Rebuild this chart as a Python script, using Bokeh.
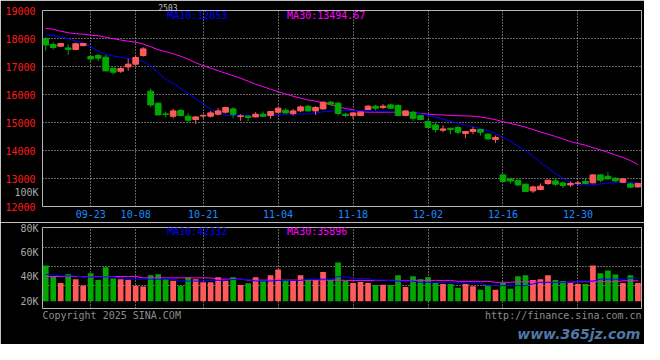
from bokeh.plotting import figure
from bokeh.models import Range1d, FixedTicker, Label, LinearAxis
from bokeh.layouts import column
from bokeh.embed import file_html
from bokeh.resources import INLINE

# ---------------- data ----------------
dates = ["09-11", "09-12", "09-13", "09-18", "09-19", "09-20", "09-23", "09-24", "09-25", "09-26",
         "09-27", "09-30", "10-08", "10-09", "10-10", "10-11", "10-14", "10-15", "10-16", "10-17",
         "10-18", "10-21", "10-22", "10-23", "10-24", "10-25", "10-28", "10-29", "10-30", "10-31",
         "11-01", "11-04", "11-05", "11-06", "11-07", "11-08", "11-11", "11-12", "11-13", "11-14",
         "11-15", "11-18", "11-19", "11-20", "11-21", "11-22", "11-25", "11-26", "11-27", "11-28",
         "11-29", "12-02", "12-03", "12-04", "12-05", "12-06", "12-09", "12-10", "12-11", "12-12",
         "12-13", "12-16", "12-17", "12-18", "12-19", "12-20", "12-23", "12-24", "12-25", "12-26",
         "12-27", "12-30", "12-31", "01-02", "01-03", "01-06", "01-07", "01-08", "01-09", "01-10"]

tick_dates = ["09-23", "10-08", "10-21", "11-04", "11-18", "12-02", "12-16", "12-30"]

open_ = [18000, 17786, 17725, 17664, 17607, 17743, 17357, 17393, 17332, 16939,
         16832, 16986, 17082, 17393, 16118, 15689, 15307, 15225, 15429, 15225,
         15107, 15232, 15225, 15296, 15368, 15486, 15214, 15225, 15200, 15296,
         15250, 15368, 15439, 15321, 15414, 15582, 15414, 15486, 15725, 15689,
         15296, 15250, 15250, 15464, 15582, 15536, 15629, 15607, 15250, 15368,
         15250, 15036, 14914, 14725, 14796, 14821, 14607, 14679, 14750, 14582,
         14393, 13129, 12986, 12939, 12796, 12557, 12607, 12821, 12914, 12843,
         12771, 12821, 12893, 12843, 13129, 13082, 13011, 12868, 12807, 12700]
close = [17771, 17679, 17821, 17607, 17814, 17821, 17271, 17296, 16843, 16796,
         16929, 17082, 17321, 17629, 15629, 15271, 15286, 15414, 15250, 15082,
         15200, 15254, 15343, 15414, 15536, 15296, 15236, 15179, 15296, 15225,
         15393, 15511, 15343, 15414, 15557, 15414, 15536, 15725, 15654, 15321,
         15250, 15343, 15368, 15582, 15511, 15582, 15511, 15250, 15414, 15154,
         15107, 14821, 14750, 14771, 14750, 14654, 14679, 14750, 14654, 14414,
         14464, 12893, 12914, 12771, 12536, 12700, 12725, 12939, 12796, 12750,
         12821, 12843, 12821, 13129, 12939, 12986, 12914, 12986, 12689, 12821]
high = [18046, 17868, 17850, 17786, 17850, 17843, 17404, 17450, 17414, 16957,
        16986, 17271, 17393, 17689, 16200, 15725, 15393, 15486, 15475, 15343,
        15225, 15296, 15414, 15511, 15557, 15546, 15296, 15261, 15368, 15393,
        15414, 15536, 15511, 15486, 15607, 15629, 15582, 15743, 15771, 15750,
        15343, 15357, 15386, 15629, 15629, 15654, 15679, 15654, 15439, 15414,
        15261, 15107, 14986, 14893, 14796, 14893, 14679, 14843, 14771, 14618,
        14536, 13154, 13036, 12957, 12814, 12750, 12821, 12957, 12986, 12893,
        12893, 12914, 12986, 13154, 13154, 13225, 13046, 13029, 12850, 12850]
low = [17571, 17607, 17707, 17414, 17582, 17725, 17154, 17189, 16832, 16714,
       16772, 16843, 17036, 17357, 15547, 15250, 15189, 15154, 15225, 15011,
       14950, 15154, 15179, 15250, 15321, 15154, 15057, 15057, 15179, 15200,
       15129, 15343, 15321, 15250, 15368, 15393, 15271, 15464, 15607, 15250,
       15179, 15129, 15232, 15446, 15439, 15486, 15486, 15225, 15225, 15057,
       15082, 14796, 14654, 14654, 14582, 14582, 14439, 14582, 14536, 14393,
       14271, 12868, 12821, 12725, 12511, 12486, 12582, 12771, 12725, 12654,
       12700, 12771, 12796, 12832, 12868, 12957, 12893, 12832, 12654, 12671]

ma10 = [18136, 18100, 18046, 18000, 17904, 17850, 17707, 17546, 17439, 17375,
        17325, 17286, 17250, 17189, 17011, 16779, 16546, 16404, 16214, 16036,
        15843, 15671, 15475, 15332, 15250, 15250, 15250, 15243, 15232, 15232,
        15250, 15286, 15296, 15296, 15307, 15307, 15343, 15386, 15404, 15414,
        15421, 15429, 15421, 15414, 15404, 15393, 15386, 15368, 15350, 15332,
        15314, 15261, 15189, 15118, 15046, 14975, 14904, 14850, 14779, 14707,
        14600, 14475, 14332, 14154, 13993, 13796, 13564, 13386, 13171, 13011,
        12868, 12779, 12771, 12779, 12804, 12832, 12850, 12857, 12850, 12853]
ma30 = [18357, 18332, 18261, 18207, 18171, 18154, 18118, 18100, 18046, 17993,
        17946, 17904, 17868, 17804, 17707, 17600, 17529, 17457, 17368, 17261,
        17136, 17029, 16939, 16850, 16761, 16671, 16582, 16475, 16368, 16279,
        16189, 16100, 16021, 15939, 15868, 15804, 15761, 15707, 15636, 15564,
        15500, 15457, 15386, 15368, 15368, 15368, 15368, 15357, 15350, 15339,
        15325, 15296, 15279, 15268, 15254, 15243, 15236, 15225, 15196, 15154,
        15100, 15029, 14968, 14904, 14832, 14750, 14661, 14582, 14500, 14411,
        14321, 14250, 14189, 14100, 14021, 13939, 13839, 13750, 13640, 13494.67]

volume = [48975, 40527, 34764, 41869, 37922, 32632, 42659, 37132, 47633, 38474,
          37922, 37369, 32632, 31843, 41080, 41869, 37922, 36580, 32632, 39500,
          37922, 35316, 35316, 39500, 36580, 39500, 33185, 34527, 39500, 36580,
          41080, 45817, 37132, 37132, 41080, 37132, 37132, 43685, 37132, 51580,
          36580, 34764, 35553, 34764, 33185, 33422, 33185, 41080, 31606, 40290,
          37922, 39500, 34764, 33974, 33974, 30816, 33974, 32158, 29237, 33185,
          29237, 34764, 30027, 40290, 41080, 37132, 37922, 41080, 37132, 36343,
          34764, 33974, 33974, 48975, 42659, 45027, 41632, 34764, 41080, 34764]
vol_ma10 = [41869, 41474, 40527, 40527, 40527, 39738, 39738, 39738, 39738, 39738,
            38948, 37922, 37922, 37922, 37922, 37922, 37922, 37922, 36343, 36343,
            36343, 36343, 36895, 36895, 36895, 37685, 37685, 37685, 36343, 36343,
            36343, 36895, 36895, 36895, 36895, 37922, 37922, 37922, 37922, 40053,
            39738, 38474, 38474, 38474, 37132, 37132, 36737, 36343, 36343, 36343,
            35316, 35316, 35316, 35316, 35316, 34764, 34764, 34764, 34764, 32632,
            32632, 32632, 32632, 32632, 32632, 33974, 35316, 35316, 35316, 35316,
            35316, 36343, 36343, 36343, 37922, 37922, 37922, 37922, 38711, 38711]
vol_ma30 = [40053, 40053, 40053, 40053, 40053, 40053, 40053, 40053, 40053, 40053,
            40053, 40053, 40053, 38948, 38948, 38948, 38948, 38948, 38948, 38948,
            38948, 38948, 38948, 37922, 37922, 37922, 37922, 37132, 37132, 37132,
            37132, 37132, 37132, 37132, 37132, 37132, 37132, 37132, 37132, 37132,
            36895, 36895, 36895, 36895, 36895, 36895, 36895, 36895, 36895, 36895,
            36895, 36895, 36895, 36895, 36895, 36106, 36106, 36106, 36106, 36106,
            35316, 35316, 35316, 35790, 35790, 35790, 35316, 35316, 35316, 35316,
            35316, 35790, 35790, 35790, 35790, 35790, 35790, 36580, 36580, 36580]

price_ticks = [12000, 13000, 14000, 15000, 16000, 17000, 18000, 19000]
vol_ticks = [20000, 40000, 60000, 80000]
vol_tick_labels = ["20K", "40K", "60K", "80K"]

title_text = "2503"
ma10_label = "MA10:12853"
ma30_label = "MA30:13494.67"
vol_ma10_label = "MA10:42332"
vol_ma30_label = "MA30:35896"
scale_note = "100K"
copyright_text = "Copyright 2025 SINA.COM"
source_text = "http://finance.sina.com.cn"
watermark_text = "www.365jz.com"

# ---------------- styling ----------------
RED = "#ff5a5a"
GREEN = "#00a800"
BG = "#000000"
FRAME = "#b4b4b4"
GRID = "#c8c8c8"
GREY_TXT = "#a8a8a8"
MONO = "DejaVu Sans Mono"

idx = list(range(len(dates)))
colors = [RED if c > o else GREEN for o, c in zip(open_, close)]
body_top = [max(o, c) for o, c in zip(open_, close)]
body_bot = [min(o, c) for o, c in zip(open_, close)]
tick_idx = [dates.index(d) for d in tick_dates]

x_lo, x_hi = -0.43, len(dates) - 0.52


def bare_axis(ax, color, size="10px", font=MONO, standoff=4, style="normal"):
    ax.axis_line_color = None
    ax.major_tick_line_color = None
    ax.minor_tick_line_color = None
    ax.major_tick_out = 0
    ax.major_tick_in = 0
    ax.minor_tick_out = 0
    ax.minor_tick_in = 0
    ax.major_label_text_font = font
    ax.major_label_text_font_size = size
    ax.major_label_text_font_style = style
    ax.major_label_text_color = color
    ax.major_label_standoff = standoff


def style(p):
    p.background_fill_color = BG
    p.border_fill_color = BG
    p.outline_line_color = FRAME
    p.outline_line_width = 1
    p.xgrid.ticker = FixedTicker(ticks=tick_idx)
    for g in (p.xgrid, p.ygrid):
        g.grid_line_color = GRID
        g.grid_line_dash = "1 2"
        g.grid_line_width = 1


# ---------------- price panel ----------------
p = figure(width=644, height=222, x_range=Range1d(x_lo, x_hi),
           y_range=Range1d(12000, 19000), output_backend="svg",
           toolbar_location=None, min_border_left=42, min_border_right=3,
           min_border_top=10, min_border_bottom=16)
style(p)
p.ygrid.ticker = FixedTicker(ticks=price_ticks)

# inner left axis: the grey "100K" note
p.yaxis.ticker = FixedTicker(ticks=[12500])
p.yaxis.major_label_overrides = {12500: scale_note}
bare_axis(p.yaxis, GREY_TXT, standoff=4)
# outer left axis: red price labels, pulled back next to the frame
price_axis = LinearAxis(ticker=FixedTicker(ticks=price_ticks))
bare_axis(price_axis, "#ff1a1a", standoff=-24)
p.add_layout(price_axis, "left")

p.xaxis.ticker = FixedTicker(ticks=tick_idx)
p.xaxis.major_label_overrides = {i: d for i, d in zip(tick_idx, tick_dates)}
bare_axis(p.xaxis, "#1a8cff", standoff=3)

title_axis = LinearAxis(ticker=FixedTicker(ticks=[16.3]),
                        major_label_overrides={16.3: title_text})
bare_axis(title_axis, "#c0c0c0", size="8px", standoff=0)
p.add_layout(title_axis, "above")

p.line(idx, ma30, color="#ff00ff", line_width=1)
p.line(idx, ma10, color="#0000ff", line_width=1)
p.segment(x0=idx, y0=low, x1=idx, y1=high, color=colors, line_width=1)
p.vbar(x=idx, top=body_top, bottom=body_bot, width=0.76,
       fill_color=colors, line_color=colors, line_width=1)

p.add_layout(Label(x=16.2, y=18810, text=ma10_label, text_color="#0000ff",
                   text_font=MONO, text_font_size="10px", text_baseline="middle"))
p.add_layout(Label(x=32.2, y=18810, text=ma30_label, text_color="#ff00ff",
                   text_font=MONO, text_font_size="10px", text_baseline="middle"))

# ---------------- volume panel ----------------
v = figure(width=644, height=122, x_range=p.x_range,
           y_range=Range1d(14000, 80000), output_backend="svg",
           toolbar_location=None, min_border_left=42, min_border_right=3,
           min_border_top=5, min_border_bottom=33)
style(v)
v.yaxis.ticker = FixedTicker(ticks=vol_ticks)
v.yaxis.major_label_overrides = {t: s for t, s in zip(vol_ticks, vol_tick_labels)}
bare_axis(v.yaxis, GREY_TXT, standoff=4)
v.ygrid.ticker = FixedTicker(ticks=[32400, 48100, 63800])

# footer texts as tick labels of the bottom axes
v.xaxis.ticker = FixedTicker(ticks=[8.8, 69.05])
v.xaxis.major_label_overrides = {8.8: copyright_text, 69.05: source_text}
bare_axis(v.xaxis, "#8c8c8c", standoff=1)
wm_axis = LinearAxis(ticker=FixedTicker(ticks=[72.2]),
                     major_label_overrides={72.2: watermark_text})
bare_axis(wm_axis, "#4f78a6", size="14px", font="DejaVu Sans", standoff=2,
          style="bold italic")
v.add_layout(wm_axis, "below")

v.vbar(x=idx, top=volume, bottom=20000, width=0.76, fill_color=colors, line_color=None)
v.line(idx, vol_ma30, color="#ff00ff", line_width=1)
v.line(idx, vol_ma10, color="#0000ff", line_width=1)

v.add_layout(Label(x=16.2, y=76800, text=vol_ma10_label, text_color="#0000ff",
                   text_font=MONO, text_font_size="10px", text_baseline="middle"))
v.add_layout(Label(x=32.2, y=76800, text=vol_ma30_label, text_color="#ff00ff",
                   text_font=MONO, text_font_size="10px", text_baseline="middle"))

layout = column(p, v, spacing=0)

open("out.html", "w").write(file_html(layout, INLINE))
